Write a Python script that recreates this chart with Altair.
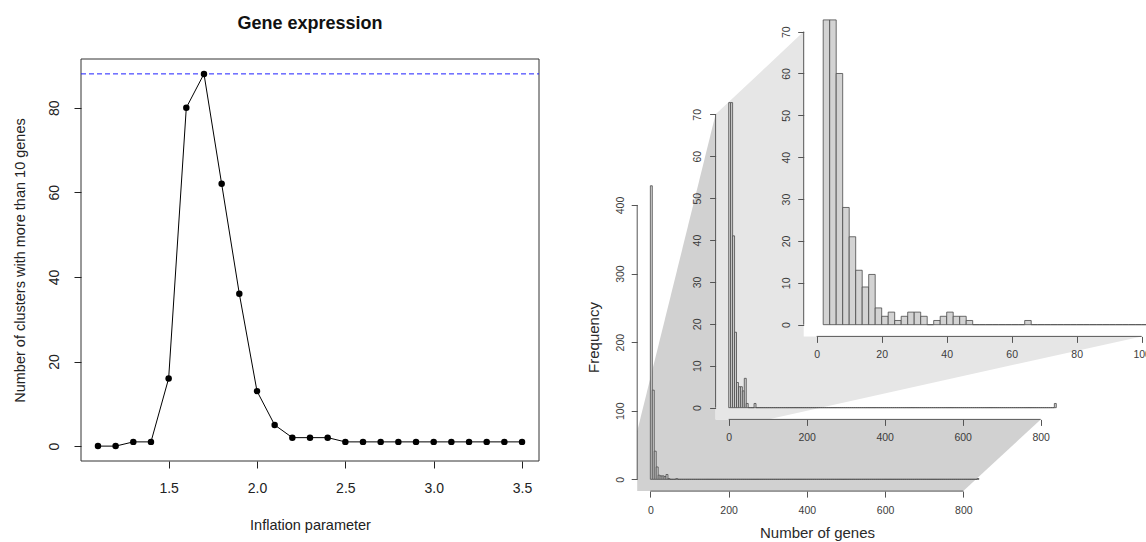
import altair as alt
import pandas as pd

W, H = 1146, 542
FONT = "Liberation Sans"

# ---------------- data: left panel ----------------
inflation = [1.1, 1.2, 1.3, 1.4, 1.5, 1.6, 1.7, 1.8, 1.9, 2.0, 2.1, 2.2, 2.3, 2.4,
             2.5, 2.6, 2.7, 2.8, 2.9, 3.0, 3.1, 3.2, 3.3, 3.4, 3.5]
clusters = [0, 0, 1, 1, 16, 80, 88, 62, 36, 13, 5, 2, 2, 2,
            1, 1, 1, 1, 1, 1, 1, 1, 1, 1, 1]
best_clusters = 88
left_x_ticks = [1.5, 2.0, 2.5, 3.0, 3.5]
left_y_ticks = [0, 20, 40, 60, 80]

# ---------------- data: histograms ----------------
# cluster sizes, bins of 5 genes (0..840)
bin5_lo = list(range(0, 840, 5))
counts5 = [428, 130, 41, 18, 6, 5, 5, 4, 7, 1, 0, 0, 0, 1] + [0] * 153 + [1]
# zoomed histogram, bins of 2 genes (2..104)
bin2_lo = list(range(2, 104, 2))
counts2 = [330, 160, 60, 28, 21, 13, 9, 12, 4, 2, 3, 1, 2, 3, 3, 2, 0, 1, 2, 3, 2, 2, 1,
           0, 0, 0, 0, 0, 0, 0, 0, 1,
           0, 0, 0, 0, 0, 0, 0, 0, 0, 0, 0, 0, 0, 0, 0, 0, 0, 0, 0]
h1_x_ticks = [0, 200, 400, 600, 800]
h1_y_ticks = [0, 100, 200, 300, 400]
h2_x_ticks = [0, 200, 400, 600, 800]
h2_y_ticks = [0, 10, 20, 30, 40, 50, 60, 70]
h3_x_ticks = [0, 20, 40, 60, 80, 100]
h3_y_ticks = [0, 10, 20, 30, 40, 50, 60, 70]

# ---------------- layout (panel geometry, pixels) ----------------
LEFT = dict(xd=[1.004, 3.596], xr=[81, 539], yd=[-3.52, 91.52], yr=[461, 59])
H1 = dict(xd=[-33.6, 873.6], xr=[637.2, 992.1], yd=[-17.2, 447.2], yr=[491.1, 172.6])
H2 = dict(xd=[-33.6, 873.6], xr=[715.6, 1069.4], yd=[-2.8, 72.8], yr=[419.4, 102.6])
H3 = dict(xd=[-4, 104], xr=[803.7, 1154.7], yd=[-2.8, 72.8], yr=[336.4, 19.9])


def lin(dom, rng, v):
    return rng[0] + (v - dom[0]) * (rng[1] - rng[0]) / (dom[1] - dom[0])


def px(P, x, y):
    return (lin(P['xd'], P['xr'], x), lin(P['yd'], P['yr'], y))


def sc(dom, rng, clamp=False):
    kw = dict(domain=dom, range=rng, nice=False, zero=False)
    if clamp:
        kw['clamp'] = True
    return alt.Scale(**kw)


def xaxis(P, values, fmt, size, color, tick_color, tsize, pad, title=None, title_at=None, tsz=14, tcolor='#222'):
    kw = dict(orient='bottom', offset=P['yr'][0] - H, values=values, format=fmt, domain=False,
              grid=False, tickSize=tsize, tickColor=tick_color, tickWidth=1, zindex=1,
              labelFont=FONT, labelFontSize=size, labelColor=color, labelPadding=pad,
              labelBaseline='middle', labelAlign='center', labelFlush=False, labelOverlap=False)
    if title:
        kw.update(title=title, titleX=title_at[0], titleY=title_at[1] - P['yr'][0],
                  titleFont=FONT, titleFontSize=tsz, titleFontWeight='normal', titleColor=tcolor,
                  titleBaseline='middle', titleAlign='center', titleAngle=0)
    else:
        kw['title'] = None
    return alt.Axis(**kw)


def yaxis(P, values, fmt, size, color, tick_color, tsize, pad, title=None, title_at=None, tsz=14, tcolor='#222'):
    kw = dict(orient='left', offset=-P['xr'][0], values=values, format=fmt, domain=False,
              grid=False, tickSize=tsize, tickColor=tick_color, tickWidth=1, zindex=1,
              labelFont=FONT, labelFontSize=size, labelColor=color, labelPadding=pad,
              labelAngle=270, labelBaseline='middle', labelAlign='center',
              labelFlush=False, labelOverlap=False)
    if title:
        kw.update(title=title, titleX=title_at[0] - P['xr'][0], titleY=title_at[1],
                  titleFont=FONT, titleFontSize=tsz, titleFontWeight='normal', titleColor=tcolor,
                  titleBaseline='middle', titleAlign='center', titleAngle=270)
    else:
        kw['title'] = None
    return alt.Axis(**kw)


# ---------------- left panel ----------------
def LX():
    return sc(LEFT['xd'], LEFT['xr'])


def LY():
    return sc(LEFT['yd'], LEFT['yr'])


left_df = pd.DataFrame({'inflation': inflation, 'clusters': clusters})
box_df = pd.DataFrame({'x1': [LEFT['xd'][0]], 'x2': [LEFT['xd'][1]],
                       'y1': [LEFT['yd'][0]], 'y2': [LEFT['yd'][1]]})
best_df = pd.DataFrame({'x1': [LEFT['xd'][0]], 'x2': [LEFT['xd'][1]], 'best': [best_clusters]})

lx_axis = xaxis(LEFT, left_x_ticks, '.1f', 14, '#222', '#222', 7, 20,
                title='Inflation parameter', title_at=(310, 525), tsz=14.5)
ly_axis = yaxis(LEFT, left_y_ticks, 'd', 14, '#222', '#222', 7, 20,
                title='Number of clusters with more than 10 genes', title_at=(20, 260), tsz=14.5)

left_box = alt.Chart(box_df).mark_rect(fillOpacity=0, stroke='#333', strokeWidth=1).encode(
    x=alt.X('x1:Q', scale=LX(), axis=lx_axis), x2='x2:Q',
    y=alt.Y('y1:Q', scale=LY(), axis=ly_axis), y2='y2:Q')
best_rule = alt.Chart(best_df).mark_rule(color='#1f1fff', strokeDash=[5, 3], strokeWidth=1).encode(
    x=alt.X('x1:Q', scale=LX(), axis=None), x2='x2:Q',
    y=alt.Y('best:Q', scale=LY(), axis=None))
line = alt.Chart(left_df).mark_line(color='black', strokeWidth=1).encode(
    x=alt.X('inflation:Q', scale=LX(), axis=None), y=alt.Y('clusters:Q', scale=LY(), axis=None))
pts = alt.Chart(left_df).mark_circle(size=42, color='black', opacity=1).encode(
    x=alt.X('inflation:Q', scale=LX(), axis=None), y=alt.Y('clusters:Q', scale=LY(), axis=None))

title = alt.Chart(pd.DataFrame({'t': ['Gene expression']})).mark_text(
    font=FONT, fontSize=18, fontWeight='bold', color='#111').encode(
    x=alt.value(310), y=alt.value(24), text='t:N')

# ---------------- histograms ----------------
TXT = '#3c3c3c'
LINE = '#555555'
FILL = '#d3d3d3'
BAR_STROKE = '#4a4a4a'


def hist_df(lo, counts, width):
    return pd.DataFrame({'lo': lo, 'hi': [v + width for v in lo],
                         'base': [0] * len(lo), 'count': counts})


def bg_layer(P):
    d = pd.DataFrame({'x1': [P['xd'][0]], 'x2': [P['xd'][1]], 'y1': [P['yd'][0]], 'y2': [P['yd'][1]]})
    return alt.Chart(d).mark_rect(fill='white', strokeWidth=0).encode(
        x=alt.X('x1:Q', scale=sc(P['xd'], P['xr']), axis=None), x2='x2:Q',
        y=alt.Y('y1:Q', scale=sc(P['yd'], P['yr']), axis=None), y2='y2:Q')


def hist_layers(P, df, xt, yt, xa, ya, clamp):
    bars = alt.Chart(df).mark_rect(fill=FILL, stroke=BAR_STROKE, strokeWidth=0.8).encode(
        x=alt.X('lo:Q', scale=sc(P['xd'], P['xr']), axis=xa), x2='hi:Q',
        y=alt.Y('base:Q', scale=sc(P['yd'], P['yr'], clamp=clamp), axis=ya), y2='count:Q')
    xl = pd.DataFrame({'a': [xt[0]], 'b': [xt[-1]], 'c': [P['yd'][0]]})
    yl = pd.DataFrame({'a': [yt[0]], 'b': [yt[-1]], 'c': [P['xd'][0]]})
    xline = alt.Chart(xl).mark_rule(color=LINE, strokeWidth=1).encode(
        x=alt.X('a:Q', scale=sc(P['xd'], P['xr']), axis=None), x2='b:Q',
        y=alt.Y('c:Q', scale=sc(P['yd'], P['yr']), axis=None))
    yline = alt.Chart(yl).mark_rule(color=LINE, strokeWidth=1).encode(
        y=alt.Y('a:Q', scale=sc(P['yd'], P['yr']), axis=None), y2='b:Q',
        x=alt.X('c:Q', scale=sc(P['xd'], P['xr']), axis=None))
    return [bars, xline, yline]


df5 = hist_df(bin5_lo, counts5, 5)
df2 = hist_df(bin2_lo, counts2, 2)

h1 = hist_layers(H1, df5, h1_x_ticks, h1_y_ticks,
                 xaxis(H1, h1_x_ticks, 'd', 10.5, TXT, LINE, 6, 13, title='Number of genes',
                       title_at=(817, 532), tsz=15, tcolor='#2a2a2a'),
                 yaxis(H1, h1_y_ticks, 'd', 10.5, TXT, LINE, 6, 11, title='Frequency',
                       title_at=(593, 337), tsz=15, tcolor='#2a2a2a'), False)
h2 = hist_layers(H2, df5, h2_x_ticks, h2_y_ticks,
                 xaxis(H2, h2_x_ticks, 'd', 10.5, TXT, LINE, 6, 12),
                 yaxis(H2, h2_y_ticks, 'd', 10.5, TXT, LINE, 6, 12), True)
h3 = hist_layers(H3, df2, h3_x_ticks, h3_y_ticks,
                 xaxis(H3, h3_x_ticks, 'd', 10.5, TXT, LINE, 6, 12),
                 yaxis(H3, h3_y_ticks, 'd', 10.5, TXT, LINE, 6, 11), True)


# ---------------- zoom connector polygons (pixel layer) ----------------
def span_at(verts, x, tol=1e-3):
    ys = []
    n = len(verts)
    for i in range(n):
        (x1, y1), (x2, y2) = verts[i], verts[(i + 1) % n]
        if abs(x2 - x1) < tol:
            if abs(x - x1) < tol:
                ys += [y1, y2]
        elif min(x1, x2) - tol <= x <= max(x1, x2) + tol:
            ys.append(y1 + (y2 - y1) * (x - x1) / (x2 - x1))
    return min(ys), max(ys)


def poly_layer(verts, color):
    xs = sorted(set(v[0] for v in verts))
    rows = []
    for x in xs:
        top, bot = span_at(verts, x)
        rows.append({'px': x, 'top': top, 'bot': bot})
    d = pd.DataFrame(rows)
    return alt.Chart(d).mark_area(color=color, opacity=1, strokeWidth=0).encode(
        x=alt.X('px:Q', scale=sc([0, W], [0, W]), axis=None),
        y=alt.Y('bot:Q', scale=sc([0, H], [0, H]), axis=None), y2='top:Q')


zoom1_x = [H1['xd'][0], 800]
zoom1_y = [H1['yd'][0], 70]
p1 = [px(H1, zoom1_x[0], zoom1_y[0]), px(H1, zoom1_x[1], zoom1_y[0]),
      px(H2, zoom1_x[1], H2['yd'][0]), px(H2, zoom1_x[1], 70),
      px(H2, zoom1_x[0], 70), px(H1, zoom1_x[0], zoom1_y[1])]
zoom2_x = [H2['xd'][0], 100]
p2 = [px(H2, zoom2_x[0], H2['yd'][0]), px(H2, zoom2_x[1], H2['yd'][0]),
      px(H3, 100, H3['yd'][0]), px(H3, 100, 70),
      px(H3, H3['xd'][0], 70), px(H2, zoom2_x[0], 70)]

poly1 = poly_layer(p1, '#d1d1d1')
poly2 = poly_layer(p2, '#e6e6e6')

layers = ([left_box, best_rule, line, pts, title, poly1] + h1 +
          [bg_layer(H2), poly2] + h2 + [bg_layer(H3)] + h3)

chart = alt.layer(*layers).resolve_scale(
    x='independent', y='independent'
).resolve_axis(
    x='independent', y='independent'
).properties(
    width=W, height=H, padding=0, autosize='none'
).configure(font=FONT).configure_view(strokeWidth=0).configure_scale(continuousPadding=0)

chart.save("out.html", embed_options={"renderer": "svg", "actions": False})
